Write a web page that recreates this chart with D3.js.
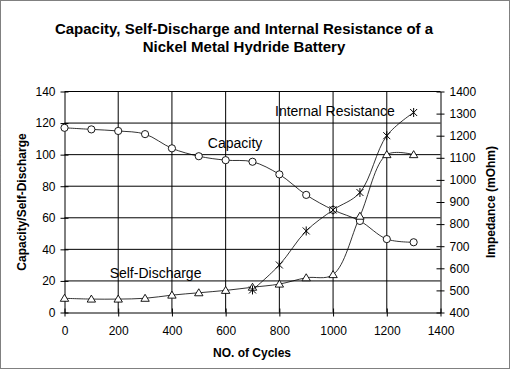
<!DOCTYPE html>
<html><head><meta charset="utf-8">
<script src="https://cdn.jsdelivr.net/npm/d3@7"></script>
<style>
html,body{margin:0;padding:0;background:#fff;}
svg{display:block;}
text{font-family:"Liberation Sans",Arial,Helvetica,sans-serif;fill:#000;}
</style></head>
<body>
<script>
const cycles = [0,100,200,300,400,500,600,700,800,900,1000,1100,1200,1300];
const capacity = [117,116,115,113,104,99,96.5,95.5,87.5,74.5,65,58,46.5,44.5];
const selfDischarge = [9,8.5,8.5,9,11,12.5,14,16,18,22,24,61,100,100];
const resistCycles = [700,800,900,1000,1100,1200,1300];
const resistance = [502,615,769,864,943,1200,1305];
const xTicks = [0,200,400,600,800,1000,1200,1400];
const yLeftTicks = [0,20,40,60,80,100,120,140];
const yRightTicks = [400,500,600,700,800,900,1000,1100,1200,1300,1400];
const titleLines = ["Capacity, Self-Discharge and Internal Resistance of a","Nickel Metal Hydride Battery"];
const seriesLabels = [
  {text:"Capacity", x:635, y:104.2, axis:"L"},
  {text:"Internal Resistance", x:1007, y:1289, axis:"R"},
  {text:"Self-Discharge", x:339, y:21.8, axis:"L"}
];

const W=510,H=369;
const svg=d3.select("body").append("svg").attr("width",W).attr("height",H);
svg.append("rect").attr("x",0.5).attr("y",0.5).attr("width",W-1).attr("height",H-1)
  .attr("fill","none").attr("stroke","#000").attr("stroke-dasharray","1,1");

const x=d3.scaleLinear().domain([0,1400]).range([64.5,440.5]);
const yL=d3.scaleLinear().domain([0,140]).range([312.5,91.5]);
const yR=d3.scaleLinear().domain([400,1400]).range([312.5,91.5]);

const g=svg.append("g");
g.selectAll(".vg").data(xTicks.slice(1,-1)).enter().append("line")
  .attr("x1",d=>x(d)).attr("x2",d=>x(d)).attr("y1",yL(0)).attr("y2",yL(140))
  .attr("stroke","#000").attr("stroke-width",1);
g.selectAll(".hg").data(yLeftTicks.slice(1)).enter().append("line")
  .attr("x1",x(0)).attr("x2",x(1400)).attr("y1",d=>yL(d)).attr("y2",d=>yL(d))
  .attr("stroke","#000").attr("stroke-width",1);

const fmt=d3.format("d");
const ax=svg.append("g").attr("transform",`translate(0,${yL(0)})`)
  .call(d3.axisBottom(x).tickValues(xTicks).tickFormat(fmt).tickSizeInner(4).tickSizeOuter(0).tickPadding(10));
ax.selectAll(".tick line").attr("y1",-4);
const ayl=svg.append("g").attr("transform",`translate(${x(0)},0)`)
  .call(d3.axisLeft(yL).tickValues(yLeftTicks).tickFormat(fmt).tickSizeInner(4).tickSizeOuter(0).tickPadding(5));
ayl.selectAll(".tick line").attr("x1",4);
const ayr=svg.append("g").attr("transform",`translate(${x(1400)},0)`)
  .call(d3.axisRight(yR).tickValues(yRightTicks).tickFormat(fmt).tickSizeInner(4).tickSizeOuter(0).tickPadding(5));
ayr.selectAll(".tick line").attr("x1",-4);
[ax,ayl,ayr].forEach(a=>{
  a.selectAll("text").style("font-size","12px").style("font-family",'"Liberation Sans",Arial,sans-serif').attr("fill","#000");
  a.selectAll("path,line").attr("stroke","#000");
});

const curve=d3.curveCatmullRom.alpha(0.5);
const lineL=d3.line().x(d=>x(d[0])).y(d=>yL(d[1])).curve(curve);
const lineR=d3.line().x(d=>x(d[0])).y(d=>yR(d[1])).curve(curve);
const capData=cycles.map((c,i)=>[c,capacity[i]]);
const sdData=cycles.map((c,i)=>[c,selfDischarge[i]]);
const irData=resistCycles.map((c,i)=>[c,resistance[i]]);

svg.append("path").attr("d",lineL(capData)).attr("fill","none").attr("stroke","#000").attr("stroke-width",0.8);
svg.append("path").attr("d",lineL(sdData)).attr("fill","none").attr("stroke","#000").attr("stroke-width",0.8);
svg.append("path").attr("d",lineR(irData)).attr("fill","none").attr("stroke","#000").attr("stroke-width",0.8);

svg.selectAll(".cap").data(capData).enter().append("circle")
  .attr("cx",d=>x(d[0])).attr("cy",d=>yL(d[1])).attr("r",3.6)
  .attr("fill","#fff").attr("stroke","#000").attr("stroke-width",0.9);
svg.selectAll(".sd").data(sdData).enter().append("path")
  .attr("transform",d=>`translate(${x(d[0])},${yL(d[1])})`)
  .attr("d","M0,-4L4.2,3L-4.2,3Z")
  .attr("fill","#fff").attr("stroke","#000").attr("stroke-width",0.9);
svg.selectAll(".ir").data(irData).enter().append("path")
  .attr("transform",d=>`translate(${x(d[0])},${yR(d[1])})`)
  .attr("d","M-3.5,-3.5L3.5,3.5M-3.5,3.5L3.5,-3.5M0,-4.5L0,4.5")
  .attr("fill","none").attr("stroke","#000").attr("stroke-width",1);

svg.selectAll(".sl").data(seriesLabels).enter().append("text")
  .attr("x",d=>x(d.x)).attr("y",d=>d.axis==="L"?yL(d.y):yR(d.y))
  .attr("text-anchor","middle").style("font-size","14px").text(d=>d.text);

svg.selectAll(".t").data(titleLines).enter().append("text")
  .attr("x",244).attr("y",(d,i)=>33.5+i*18.5).attr("text-anchor","middle")
  .style("font-size","15px").style("font-weight","bold").text(d=>d);

svg.append("text").attr("x",252).attr("y",357).attr("text-anchor","middle")
  .style("font-size","12px").style("font-weight","bold").text("NO. of Cycles");
svg.append("text").attr("transform",`translate(26,${yL(70)}) rotate(-90)`).attr("text-anchor","middle")
  .style("font-size","12px").style("font-weight","bold").text("Capacity/Self-Discharge");
svg.append("text").attr("transform",`translate(495,${yL(70)}) rotate(-90)`).attr("text-anchor","middle")
  .style("font-size","12px").style("font-weight","bold").text("Impedance (mOhm)");
</script>
</body></html>
